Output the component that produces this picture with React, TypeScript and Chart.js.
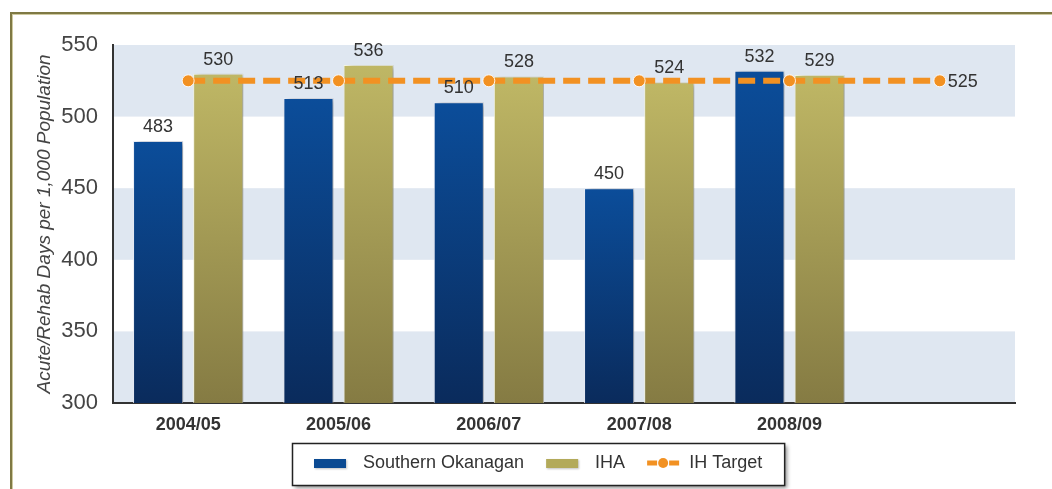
import React, { useEffect, useRef } from 'react';
import { Chart, registerables } from 'chart.js';

Chart.register(...registerables);

const categories = ['2004/05', '2005/06', '2006/07', '2007/08', '2008/09', ''];
const southernOkanagan = [483, 513, 510, 450, 532, null];
const iha = [530, 536, 528, 524, 529, null];
const ihTarget = [525, 525, 525, 525, 525, 525];
const yTicks = [300, 350, 400, 450, 500, 550];
const seriesLabels = ['Southern Okanagan', 'IHA', 'IH Target'];
const yTitle = 'Acute/Rehab Days per 1,000 Population';

const FONT = "'Liberation Sans', Arial, Helvetica, sans-serif";
const BLUE_TOP = '#0b4d9a';
const BLUE_BOTTOM = '#0a2b5c';
const OLIVE_TOP = '#bfb765';
const OLIVE_BOTTOM = '#857b43';
const ORANGE = '#f29122';
const LEGEND_SWATCH = ['#0b4a92', '#b3aa5a', ORANGE];

function barGradient(top: string, bottom: string) {
  return (c: any) => {
    const chart = c.chart;
    const area = chart.chartArea;
    if (!area || c.parsed == null || c.parsed.y == null) return top;
    const y = chart.scales.y;
    const yTop = y.getPixelForValue(c.parsed.y);
    const g = chart.ctx.createLinearGradient(0, yTop, 0, area.bottom);
    g.addColorStop(0, top);
    g.addColorStop(1, bottom);
    return g;
  };
}

const bandsPlugin = {
  id: 'bands',
  beforeDraw(chart: any) {
    const { ctx, chartArea, scales } = chart;
    const y = scales.y;
    ctx.save();
    ctx.fillStyle = '#dfe7f1';
    for (let i = 0; i + 1 < yTicks.length; i += 2) {
      const t = y.getPixelForValue(yTicks[i + 1]);
      const b = y.getPixelForValue(yTicks[i]);
      ctx.fillRect(chartArea.left, t, chartArea.right - chartArea.left, b - t);
    }
    ctx.restore();
  },
};

const shadowPlugin = {
  id: 'barShadow',
  beforeDatasetDraw(chart: any, args: any) {
    if (args.meta.type === 'bar') {
      const c = chart.ctx;
      c.save();
      c.shadowColor = 'rgba(0,0,0,0.35)';
      c.shadowBlur = 6;
      c.shadowOffsetX = 4;
      c.shadowOffsetY = 1;
    }
  },
  afterDatasetDraw(chart: any, args: any) {
    if (args.meta.type === 'bar') chart.ctx.restore();
  },
};

const valueLabelPlugin = {
  id: 'valueLabels',
  afterDatasetsDraw(chart: any) {
    const ctx = chart.ctx;
    ctx.save();
    ctx.font = `18px ${FONT}`;
    ctx.fillStyle = '#333';
    chart.data.datasets.forEach((ds: any, i: number) => {
      const meta = chart.getDatasetMeta(i);
      if (meta.type === 'bar') {
        ctx.textAlign = 'center';
        ctx.textBaseline = 'bottom';
        meta.data.forEach((el: any, j: number) => {
          const v = ds.data[j];
          if (v == null) return;
          ctx.fillText(String(v), el.x, el.y - 5);
        });
      } else {
        const last = meta.data.length - 1;
        const el = meta.data[last];
        ctx.textAlign = 'left';
        ctx.textBaseline = 'middle';
        ctx.fillText(String(ds.data[last]), el.x + 8, el.y + 1);
      }
    });
    ctx.restore();
  },
};

const boxLegendPlugin = {
  id: 'boxLegend',
  afterDraw(chart: any) {
    const ctx = chart.ctx;
    ctx.save();
    ctx.font = `18px ${FONT}`;
    const symW = 32;
    const gaps = [17, 17, 10];
    const gapItem = 22;
    const padX = 22;
    const ds = chart.data.datasets;
    const widths = ds.map((d: any) => ctx.measureText(d.label).width);
    let content = 0;
    ds.forEach((_: any, i: number) => {
      content += symW + gaps[i] + widths[i];
    });
    content += gapItem * (ds.length - 1);
    const cx = 538;
    const cy = 464;
    const boxW = content + padX * 2;
    const boxH = 42;
    const bx = Math.round(cx - boxW / 2);
    const by = Math.round(cy - boxH / 2);
    ctx.shadowColor = 'rgba(0,0,0,0.45)';
    ctx.shadowBlur = 4;
    ctx.shadowOffsetX = 3;
    ctx.shadowOffsetY = 3;
    ctx.fillStyle = '#fff';
    ctx.fillRect(bx, by, boxW, boxH);
    ctx.shadowColor = 'transparent';
    ctx.shadowBlur = 0;
    ctx.shadowOffsetX = 0;
    ctx.shadowOffsetY = 0;
    ctx.strokeStyle = '#222';
    ctx.lineWidth = 1.5;
    ctx.strokeRect(bx + 0.5, by + 0.5, boxW, boxH);

    const ty = by + boxH / 2 - 1;
    let x = bx + padX;
    ds.forEach((d: any, i: number) => {
      if (d.type === 'line') {
        ctx.strokeStyle = LEGEND_SWATCH[i];
        ctx.lineWidth = 5;
        ctx.beginPath();
        ctx.moveTo(x, ty);
        ctx.lineTo(x + 10, ty);
        ctx.moveTo(x + 22, ty);
        ctx.lineTo(x + symW, ty);
        ctx.stroke();
        ctx.fillStyle = LEGEND_SWATCH[i];
        ctx.beginPath();
        ctx.arc(x + symW / 2, ty, 5, 0, Math.PI * 2);
        ctx.fill();
      } else {
        ctx.fillStyle = LEGEND_SWATCH[i];
        ctx.shadowColor = 'rgba(0,0,0,0.25)';
        ctx.shadowBlur = 2;
        ctx.shadowOffsetX = 1;
        ctx.shadowOffsetY = 1;
        ctx.fillRect(x, ty - 4, symW, 9);
        ctx.shadowColor = 'transparent';
        ctx.shadowBlur = 0;
        ctx.shadowOffsetX = 0;
        ctx.shadowOffsetY = 0;
      }
      x += symW + gaps[i];
      ctx.fillStyle = '#333';
      ctx.textAlign = 'left';
      ctx.textBaseline = 'middle';
      ctx.fillText(d.label, x, ty);
      x += widths[i] + gapItem;
    });
    ctx.restore();
  },
};

export default function App() {
  const canvasRef = useRef<HTMLCanvasElement | null>(null);

  useEffect(() => {
    const canvas = canvasRef.current;
    if (!canvas) return;
    const chart = new Chart(canvas, {
      type: 'bar',
      data: {
        labels: categories,
        datasets: [
          {
            type: 'bar',
            label: seriesLabels[0],
            data: southernOkanagan,
            order: 1,
            backgroundColor: barGradient(BLUE_TOP, BLUE_BOTTOM),
            borderColor: 'rgba(235,240,250,0.85)',
            borderWidth: 1,
            categoryPercentage: 0.8,
            barPercentage: 0.833,
          } as any,
          {
            type: 'bar',
            label: seriesLabels[1],
            data: iha,
            order: 1,
            backgroundColor: barGradient(OLIVE_TOP, OLIVE_BOTTOM),
            borderColor: 'rgba(250,250,225,0.9)',
            borderWidth: 1,
            categoryPercentage: 0.8,
            barPercentage: 0.833,
          } as any,
          {
            type: 'line',
            label: seriesLabels[2],
            data: ihTarget,
            order: 0,
            borderColor: ORANGE,
            backgroundColor: ORANGE,
            borderWidth: 6,
            borderDash: [17, 8],
            fill: false,
            tension: 0,
            pointRadius: 6,
            pointHoverRadius: 6,
            pointBackgroundColor: ORANGE,
            pointBorderColor: 'rgba(255,255,255,0.9)',
            pointBorderWidth: 1,
          } as any,
        ],
      },
      options: {
        animation: false,
        responsive: false,
        layout: { padding: { left: 33, top: 45, right: 37, bottom: 0 } },
        plugins: {
          legend: { display: false },
          tooltip: { enabled: false },
        },
        scales: {
          x: {
            grid: { display: false },
            border: { display: true, color: '#333', width: 2 },
            ticks: {
              font: { family: FONT, size: 18, weight: 'bold' },
              color: '#333',
              padding: 3,
              maxRotation: 0,
              autoSkip: false,
            },
            afterFit: (s: any) => {
              s.height = 86;
            },
          },
          y: {
            min: 300,
            max: 550,
            afterBuildTicks: (s: any) => {
              s.ticks = yTicks.map((v) => ({ value: v }));
            },
            grid: { display: false },
            border: { display: true, color: '#333', width: 2 },
            ticks: {
              font: { family: FONT, size: 22 },
              color: '#444',
              padding: 7,
            },
            title: {
              display: true,
              text: yTitle,
              font: { family: FONT, size: 19, style: 'italic' },
              color: '#444',
              padding: 0,
            },
            afterFit: (s: any) => {
              s.width = 80;
            },
          },
        },
      } as any,
      plugins: [bandsPlugin, shadowPlugin, valueLabelPlugin, boxLegendPlugin],
    });
    return () => chart.destroy();
  }, []);

  return (
    <div
      style={{
        position: 'fixed',
        left: 0,
        top: 0,
        width: 1052,
        height: 489,
        overflow: 'hidden',
        background: '#fff',
      }}
    >
      <div
        style={{
          position: 'absolute',
          left: 10,
          top: 12,
          width: 1200,
          height: 700,
          borderTop: '2px solid #7f7944',
          borderLeft: '2px solid #7f7944',
          boxShadow: 'inset 1px 1px 0 #cfcaa0',
          background: '#fff',
        }}
      />
      <canvas
        ref={canvasRef}
        width={1052}
        height={489}
        style={{ position: 'absolute', left: 0, top: 0, width: 1052, height: 489 }}
      />
    </div>
  );
}
